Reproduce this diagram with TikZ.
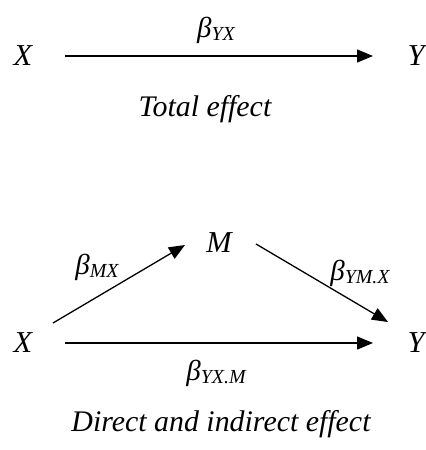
\documentclass[tikz,border=0pt]{standalone}
\usepackage{fontspec}
\setmainfont{Liberation Serif}
\usetikzlibrary{arrows.meta,calc}
\newcommand{\cf}[1]{β\raisebox{-0.25ex}{\fontsize{20}{20}\selectfont #1}}
\tikzset{
  var/.style={font=\fontsize{30.5}{34}\selectfont\itshape, inner sep=0pt, anchor=base},
  coef/.style={font=\fontsize{29}{34}\selectfont\itshape, inner sep=0pt},
  capt/.style={font=\fontsize{30}{34}\selectfont\itshape, inner sep=0pt, anchor=base},
  arr/.style={line width=1.3bp, -{Triangle[length=16bp,width=13bp]}},
}
\begin{document}
\begin{tikzpicture}[x=1bp,y=-1bp]
\useasboundingbox (0,0) rectangle (425,450);
% total effect
\node[var] (X1) at (23,66) {X};
\node[var] (Y1) at (416,66) {Y};
\node[coef] (b1) at (216,30) {\cf{YX}};
\node[capt] (t1) at (205,117) {Total effect};
\draw[arr] ($(X1.base)+(42,-10)$) -- ($(Y1.base)+(-43,-10)$);
% mediation
\node[var] (X2) at (23,352) {X};
\node[var] (Y2) at (416,352) {Y};
\node[var] (M) at (219,252) {M};
\node[coef] (b2) at (97,267) {\cf{MX}};
\node[coef] (b3) at (360,273) {\cf{YM.X}};
\node[coef] (b4) at (216,373) {\cf{YX.M}};
\node[capt] (t2) at (221,431) {Direct and indirect effect};
\draw[arr] ($(X2.base)+(30,-29)$) -- ($(M.base)+(-34,-7)$);
\draw[arr] ($(M.base)+(37,-8)$) -- ($(Y2.base)+(-28,-30)$);
\draw[arr] ($(X2.base)+(42,-9)$) -- ($(Y2.base)+(-43,-9)$);
\end{tikzpicture}
\end{document}
